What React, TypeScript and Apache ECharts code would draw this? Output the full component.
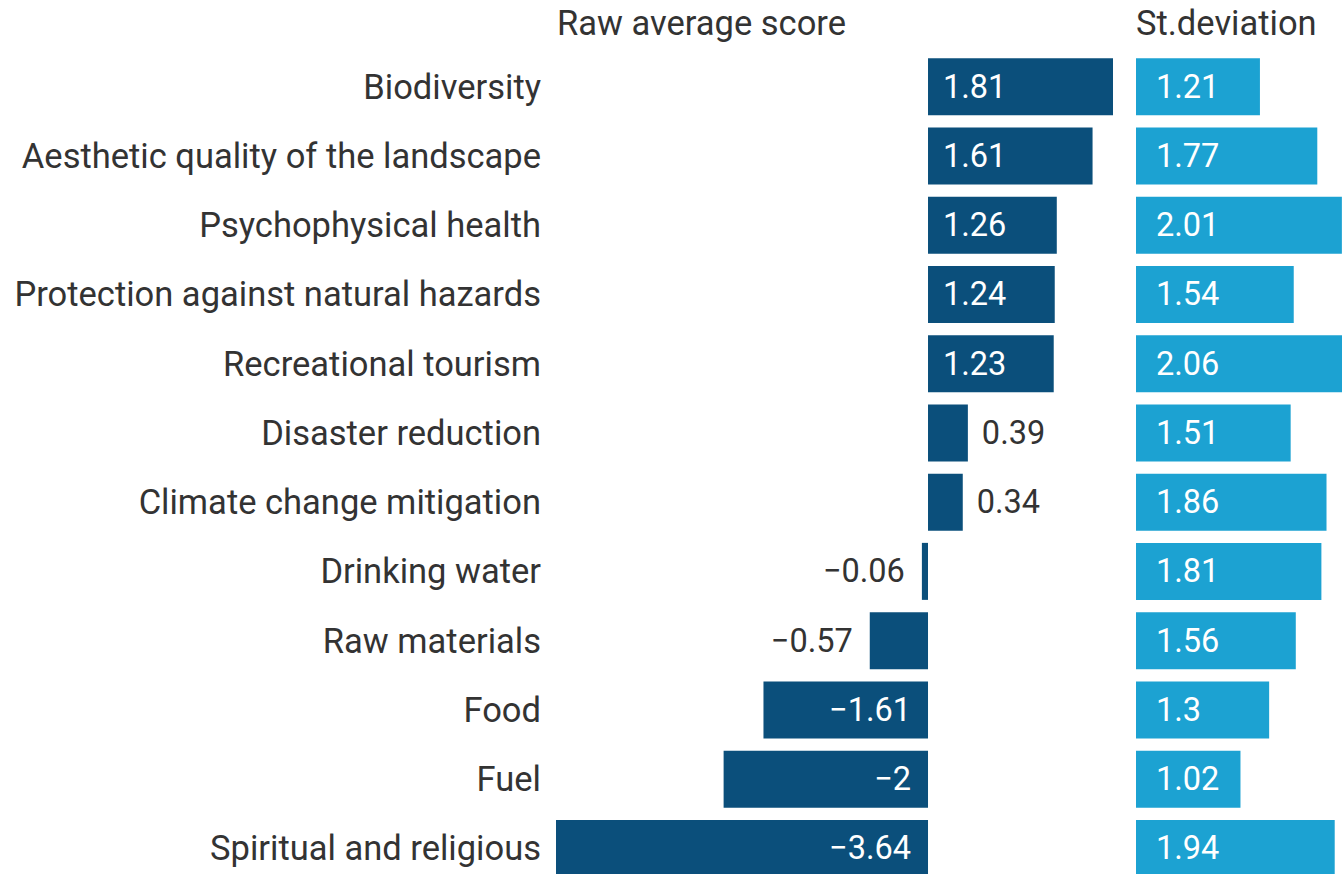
import React, { useEffect, useRef } from "react";
import * as echarts from "echarts";

const categories = [
  "Biodiversity",
  "Aesthetic quality of the landscape",
  "Psychophysical health",
  "Protection against natural hazards",
  "Recreational tourism",
  "Disaster reduction",
  "Climate change mitigation",
  "Drinking water",
  "Raw materials",
  "Food",
  "Fuel",
  "Spiritual and religious",
];
const rawScores = [1.81, 1.61, 1.26, 1.24, 1.23, 0.39, 0.34, -0.06, -0.57, -1.61, -2, -3.64];
const stDeviation = [1.21, 1.77, 2.01, 1.54, 2.06, 1.51, 1.86, 1.81, 1.56, 1.3, 1.02, 1.94];
const panelTitles = ["Raw average score", "St.deviation"];

const DARK = "#0b4f7b";
const LIGHT = "#1ca2d2";
const TEXT = "#333333";
const FONT = "Roboto";

const fmt = (v: number) => (v < 0 ? "\u2212" + String(Math.abs(v)) : String(v));

export default function App() {
  const ref = useRef<HTMLDivElement>(null);
  useEffect(() => {
    if (!ref.current) return;
    const chart = echarts.init(ref.current, undefined, { renderer: "svg" });
    const rawData = rawScores.map((v) => {
      const inside = Math.abs(v) > 1;
      let position: string;
      let distance: number;
      if (v >= 0) {
        position = inside ? "insideLeft" : "right";
        distance = inside ? 15 : 14;
      } else {
        position = inside ? "insideRight" : "left";
        distance = 17;
      }
      return {
        value: v,
        label: { position, distance, color: inside ? "#ffffff" : TEXT },
      };
    });
    chart.setOption({
      animation: false,
      textStyle: { fontFamily: FONT },
      graphic: [
        {
          type: "text",
          x: 557,
          y: 23,
          style: {
            text: panelTitles[0],
            fontSize: 34.5,
            fontFamily: FONT,
            fill: TEXT,
            textVerticalAlign: "middle",
          },
        },
        {
          type: "text",
          x: 1136,
          y: 23,
          style: {
            text: panelTitles[1],
            fontSize: 34.5,
            fontFamily: FONT,
            fill: TEXT,
            textVerticalAlign: "middle",
          },
        },
      ],
      grid: [
        { left: 556, top: 52, width: 557, height: 831, outerBoundsMode: "none", containLabel: false },
        { left: 1136, top: 52, width: 211, height: 831, outerBoundsMode: "none", containLabel: false },
      ],
      xAxis: [
        { type: "value", gridIndex: 0, min: -3.64, max: 1.81, show: false },
        { type: "value", gridIndex: 1, min: 0, max: 2.06, show: false },
      ],
      yAxis: [
        {
          type: "category",
          gridIndex: 0,
          data: categories,
          inverse: true,
          axisLine: { show: false },
          axisTick: { show: false },
          splitLine: { show: false },
          axisLabel: { fontSize: 34.5, color: TEXT, margin: 15, fontFamily: FONT },
        },
        {
          type: "category",
          gridIndex: 1,
          data: categories,
          inverse: true,
          show: false,
        },
      ],
      series: [
        {
          type: "bar",
          xAxisIndex: 0,
          yAxisIndex: 0,
          data: rawData,
          barWidth: 57,
          itemStyle: { color: DARK },
          label: {
            show: true,
            fontSize: 32.5,
            fontFamily: FONT,
            formatter: (p: any) => fmt(p.value),
          },
        },
        {
          type: "bar",
          xAxisIndex: 1,
          yAxisIndex: 1,
          data: stDeviation,
          barWidth: 57,
          itemStyle: { color: LIGHT },
          label: {
            show: true,
            position: "insideLeft",
            distance: 20,
            color: "#ffffff",
            fontSize: 32.5,
            fontFamily: FONT,
            formatter: (p: any) => fmt(p.value),
          },
        },
      ],
    });
    return () => chart.dispose();
  }, []);
  return (
    <div
      ref={ref}
      style={{ position: "absolute", left: 0, top: 0, width: 1342, height: 874, background: "#fff" }}
    />
  );
}
